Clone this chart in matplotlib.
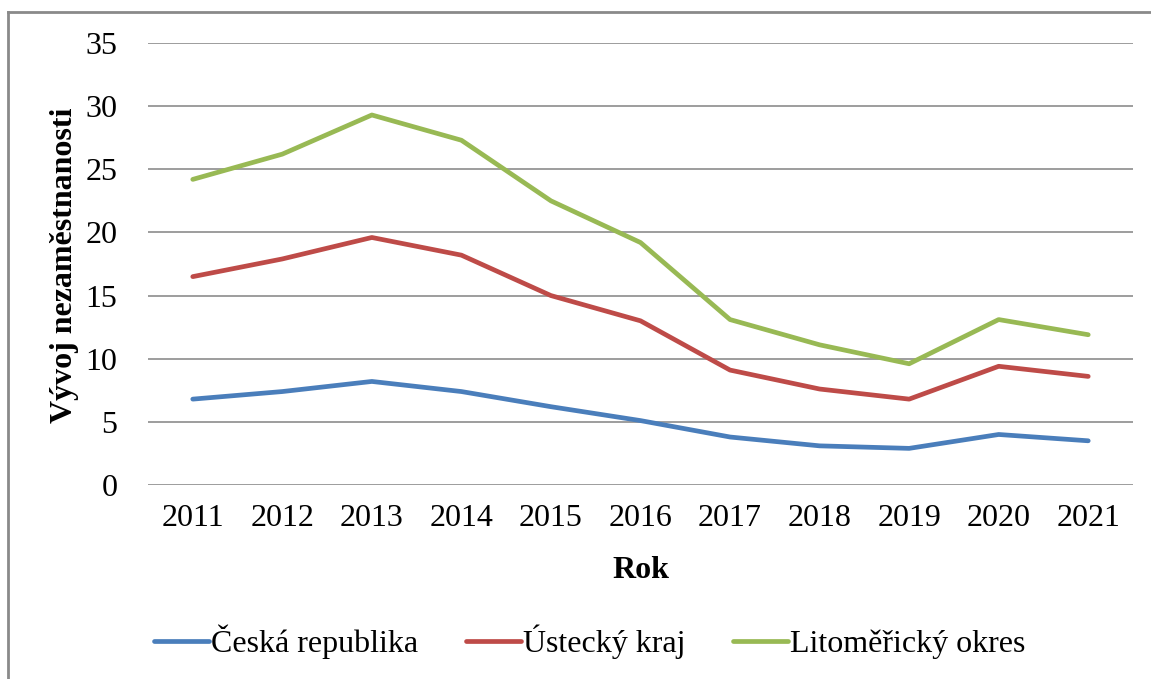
import matplotlib
matplotlib.use("Agg")
import matplotlib.pyplot as plt
from matplotlib.lines import Line2D

years = ["2011", "2012", "2013", "2014", "2015", "2016", "2017", "2018", "2019", "2020", "2021"]
ceska = [6.8, 7.4, 8.2, 7.4, 6.2, 5.1, 3.8, 3.1, 2.9, 4.0, 3.5]
ustecky = [16.5, 17.9, 19.6, 18.2, 15.0, 13.0, 9.1, 7.6, 6.8, 9.4, 8.6]
litomericky = [24.2, 26.2, 29.3, 27.3, 22.5, 19.2, 13.1, 11.1, 9.6, 13.1, 11.9]
series_names = ["Česká republika", "Ústecký kraj", "Litoměřický okres"]
colors = ["#4a7ebb", "#be4b48", "#98b954"]
yticks = [0, 5, 10, 15, 20, 25, 30, 35]

plt.rcParams['font.family'] = ['Liberation Serif', 'DejaVu Serif']

fig = plt.figure(figsize=(11.51, 6.79), dpi=100)
ax = fig.add_axes([148/1151, 1 - 485/679, (1133-148)/1151, (485-43)/679])

x = list(range(len(years)))
for vals, c, n in zip([ceska, ustecky, litomericky], colors, series_names):
    ax.plot(x, vals, color=c, lw=3.4, solid_joinstyle='round', solid_capstyle='round', label=n, zorder=3)

ax.set_xlim(-0.5, len(years) - 0.5)
ax.set_ylim(0, 35)
ax.set_yticks(yticks)
ax.set_yticklabels([str(v) for v in yticks], fontsize=23)
ax.set_xticks(x)
ax.set_xticklabels(years, fontsize=23)
ax.tick_params(axis='both', length=0)
ax.tick_params(axis='y', pad=22)
ax.tick_params(axis='x', pad=14)
ax.grid(axis='y', color='#8c8c8c', lw=1.2)
ax.set_axisbelow(True)
for s in ax.spines.values():
    s.set_visible(False)

fig.text(641/1151, 1 - 570/679, "Rok", fontsize=23, fontweight='bold', ha='center', va='center')
fig.text(65/1151, 1 - 265/679, "Vývoj nezaměstnanosti", fontsize=23, fontweight='bold',
         ha='center', va='center', rotation=90)

handles = [Line2D([0], [0], color=c, lw=3.4, solid_capstyle='round') for c in colors]
fig.legend(handles, series_names, loc='center', bbox_to_anchor=(590/1151, 1 - 642/679), ncol=3,
           frameon=False, fontsize=23, handlelength=1.7, handletextpad=0.08, columnspacing=1.5)

fig.add_artist(Line2D([8/1151, 8/1151], [0, 1 - 12/679], transform=fig.transFigure, color='#8a8a8a', lw=2))
fig.add_artist(Line2D([8/1151, 1], [1 - 12/679, 1 - 12/679], transform=fig.transFigure, color='#8a8a8a', lw=2))

fig.savefig("out.png", dpi=100)
